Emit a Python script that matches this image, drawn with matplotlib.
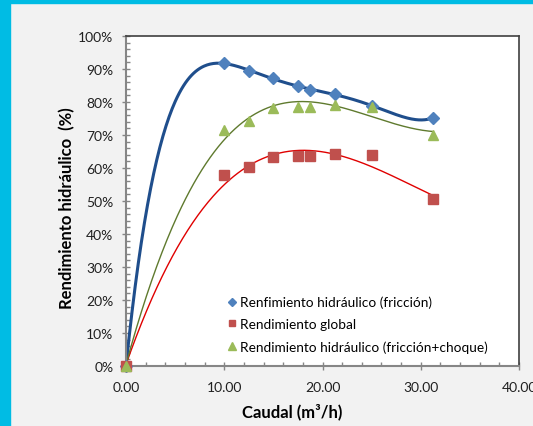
import matplotlib
matplotlib.use('Agg')
import matplotlib.pyplot as plt
import numpy as np
from matplotlib.patches import Rectangle
from matplotlib.ticker import MultipleLocator, FuncFormatter

plt.rcParams['font.family'] = ['Lato', 'DejaVu Sans']

# datos
caudal = [0.0, 10.0, 12.5, 15.0, 17.5, 18.75, 21.25, 25.0, 31.25]
rend_friccion = [0.0, 91.7, 89.5, 87.2, 84.9, 83.6, 82.4, 78.9, 75.2]
rend_global = [0.0, 57.9, 60.2, 63.2, 63.5, 63.5, 64.2, 63.9, 50.6]
rend_choque = [0.0, 71.6, 74.3, 78.1, 78.4, 78.4, 79.2, 78.6, 70.1]

etiquetas = ['Renfimiento hidráulico (fricción)',
             'Rendimiento global',
             'Rendimiento hidráulico (fricción+choque)']

W, H = 533, 427
fig = plt.figure(figsize=(W / 100, H / 100), dpi=100)
fig.patch.set_facecolor('#f2f2f2')
# marco cian de la diapositiva
fig.patches.append(Rectangle((0, 0), 10 / W, 1, transform=fig.transFigure,
                             color='#00bce4', zorder=0))
fig.patches.append(Rectangle((0, 1 - 4 / H), 1, 4 / H, transform=fig.transFigure,
                             color='#00bce4', zorder=0))

ax = fig.add_axes([126 / W, 1 - 367 / H, 393 / W, 330 / H])
ax.set_facecolor('white')

x = np.array(caudal)
xs = np.linspace(0, max(caudal), 300)

# lineas de tendencia polinomicas (como en Excel)
for datos, grado, color, lw in [(rend_friccion, 6, '#1f4e8c', 2.2),
                                (rend_global, 3, '#e00000', 1.0),
                                (rend_choque, 3, '#5f7a2e', 1.0)]:
    c = np.polyfit(x, np.array(datos), grado)
    ax.plot(xs, np.polyval(c, xs), color=color, lw=lw, zorder=2)

ax.plot(caudal, rend_friccion, 'D', color='#4f81bd', ms=6, ls='none', label=etiquetas[0],
        zorder=3, clip_on=False)
ax.plot(caudal, rend_global, 's', color='#c0504d', ms=6.5, ls='none', label=etiquetas[1],
        zorder=3, clip_on=False)
ax.plot(caudal, rend_choque, '^', color='#9bbb59', ms=7, ls='none', label=etiquetas[2],
        zorder=3, clip_on=False)

ax.set_xlim(0, 40)
ax.set_ylim(0, 100)
ax.xaxis.set_major_locator(MultipleLocator(10))
ax.xaxis.set_minor_locator(MultipleLocator(2))
ax.yaxis.set_major_locator(MultipleLocator(10))
ax.yaxis.set_minor_locator(MultipleLocator(2))
ax.xaxis.set_major_formatter(FuncFormatter(lambda v, p: '%.2f' % v))
ax.yaxis.set_major_formatter(FuncFormatter(lambda v, p: '%d%%' % v))

ax.tick_params(axis='both', which='major', direction='inout', length=6, width=1,
               color='#868686', labelsize=10, labelcolor='#202020')
ax.tick_params(axis='both', which='minor', direction='in', length=3, width=1, color='#868686')
ax.tick_params(axis='y', which='major', pad=6)
ax.tick_params(axis='x', which='major', pad=8)

for s in ['left', 'bottom']:
    ax.spines[s].set_color('#868686')
    ax.spines[s].set_linewidth(1.5)
for s in ['top', 'right']:
    ax.spines[s].set_color('#404040')
    ax.spines[s].set_linewidth(1.2)

fig.text(292 / W, 1 - 412 / H, 'Caudal (m³/h)', fontsize=12, fontweight='bold',
         ha='center', va='center')
fig.text(67 / W, 1 - 208 / H, 'Rendimiento hidráulico  (%)', fontsize=12,
         fontweight='bold', rotation=90, ha='center', va='center')

leg = ax.legend(loc='upper left', bbox_to_anchor=(0.255, 0.2125), frameon=False,
                fontsize=9.8, handletextpad=0.2, labelspacing=0.72, handlelength=0.8,
                markerscale=0.75, borderaxespad=0, borderpad=0)

fig.savefig('out.png', dpi=100, facecolor=fig.get_facecolor())
